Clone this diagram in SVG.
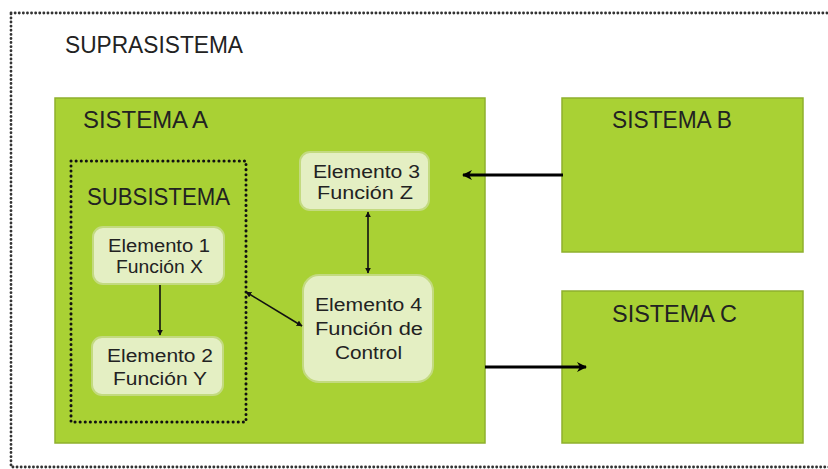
<svg xmlns="http://www.w3.org/2000/svg" width="828" height="469" viewBox="0 0 828 469">
<defs>
<style>
.sys{fill:#A9D134;stroke:#8FB02C;stroke-width:1.5}
.el{fill:#E4EFC3;stroke:#C3DA80;stroke-width:2}
.t{font-family:"Liberation Sans",Arial,sans-serif;fill:#222}
.big{font-size:23px}
.sm{font-size:18px}
.thin{stroke:#111;stroke-width:1.6;fill:none}
.thick{stroke:#000;stroke-width:3;fill:none}
</style>
<marker id="ah" viewBox="0 0 10 10" refX="9" refY="5" markerWidth="6" markerHeight="6" orient="auto-start-reverse" markerUnits="userSpaceOnUse">
<path d="M0,0 L10,5 L0,10 z" fill="#111"/>
</marker>
<marker id="ahb" viewBox="0 0 10 10" refX="9" refY="5" markerWidth="12" markerHeight="10" orient="auto" markerUnits="userSpaceOnUse">
<path d="M0,0 L10,5 L0,10 L3,5 z" fill="#000"/>
</marker>
</defs>
<rect width="828" height="469" fill="#FFFFFF"/>
<g id="suprasistema">
<rect x="11" y="13" width="840" height="454" fill="none" stroke="#333" stroke-width="2.8" stroke-dasharray="0.1 4" stroke-linecap="round"/>
<text class="t" x="65" y="53" font-size="24" textLength="178" lengthAdjust="spacingAndGlyphs">SUPRASISTEMA</text>
</g>
<g id="sistema-a">
<rect class="sys" x="55" y="98" width="430" height="345"/>
<text class="t big" x="83" y="128" textLength="125" lengthAdjust="spacingAndGlyphs">SISTEMA A</text>
</g>
<g id="sistema-b">
<rect class="sys" x="562" y="98" width="241" height="154"/>
<text class="t big" x="612" y="128" textLength="120" lengthAdjust="spacingAndGlyphs">SISTEMA B</text>
</g>
<g id="sistema-c">
<rect class="sys" x="562" y="291" width="241" height="152"/>
<text class="t big" x="612" y="322" textLength="125" lengthAdjust="spacingAndGlyphs">SISTEMA C</text>
</g>
<g id="subsistema">
<rect x="71" y="161" width="175" height="261" fill="none" stroke="#111" stroke-width="3" stroke-dasharray="0.1 5" stroke-linecap="round"/>
<text class="t big" x="87" y="205" textLength="143" lengthAdjust="spacingAndGlyphs">SUBSISTEMA</text>
</g>
<g id="elemento-1">
<rect class="el" x="93" y="227" width="131" height="57" rx="10"/>
<text class="t sm" x="108" y="252" textLength="102" lengthAdjust="spacingAndGlyphs">Elemento 1</text>
<text class="t sm" x="116" y="273" textLength="87" lengthAdjust="spacingAndGlyphs">Función X</text>
</g>
<g id="elemento-2">
<rect class="el" x="92" y="337" width="131" height="58" rx="10"/>
<text class="t sm" x="107" y="362" textLength="106" lengthAdjust="spacingAndGlyphs">Elemento 2</text>
<text class="t sm" x="113" y="385" textLength="94" lengthAdjust="spacingAndGlyphs">Función Y</text>
</g>
<g id="elemento-3">
<rect class="el" x="300" y="152" width="129" height="58" rx="10"/>
<text class="t sm" x="313" y="178" textLength="107" lengthAdjust="spacingAndGlyphs">Elemento 3</text>
<text class="t sm" x="317" y="199" textLength="96" lengthAdjust="spacingAndGlyphs">Función Z</text>
</g>
<g id="elemento-4">
<rect class="el" x="303" y="275" width="130" height="107" rx="16"/>
<text class="t sm" x="315" y="311" textLength="107" lengthAdjust="spacingAndGlyphs">Elemento 4</text>
<text class="t sm" x="315" y="335" textLength="108" lengthAdjust="spacingAndGlyphs">Función de</text>
<text class="t sm" x="335" y="359" textLength="67" lengthAdjust="spacingAndGlyphs">Control</text>
</g>
<g id="connectors">
<line class="thin" x1="160" y1="285" x2="160" y2="335" marker-end="url(#ah)"/>
<line class="thin" x1="368" y1="212" x2="368" y2="273" marker-start="url(#ah)" marker-end="url(#ah)"/>
<line class="thin" x1="246" y1="292" x2="302" y2="326" marker-start="url(#ah)" marker-end="url(#ah)"/>
<line class="thick" x1="563" y1="175" x2="463" y2="175" marker-end="url(#ahb)"/>
<line class="thick" x1="485" y1="367" x2="586" y2="367" marker-end="url(#ahb)"/>
</g>
</svg>
